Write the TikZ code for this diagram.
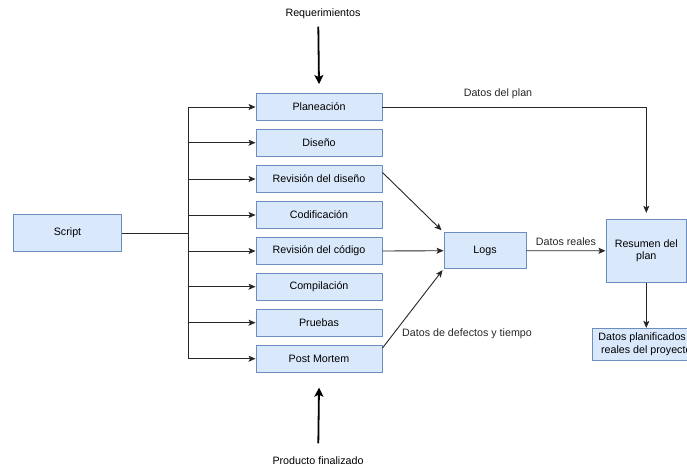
\documentclass[tikz,border=0pt]{standalone}
\usepackage{fontspec}
\setmainfont{Liberation Sans}
\usetikzlibrary{arrows.meta,calc}
\definecolor{boxfill}{HTML}{DAE8FC}
\definecolor{boxline}{HTML}{6C8EBF}
\begin{document}
\begin{tikzpicture}[x=1pt,y=-1pt,
  every node/.style={font=\fontsize{10.7}{12.8}\selectfont, inner sep=0pt, align=center},
  procbox/.style={draw=boxline, fill=boxfill, line width=0.9pt, minimum width=126pt, minimum height=27pt},
  conn/.style={line width=0.9pt, draw=black!85},
  arr/.style={conn, -{Stealth[length=7pt,width=6pt,inset=1.5pt]}},
  thickarr/.style={line width=1.8pt, -{Stealth[length=9pt,width=9pt,inset=2pt]}},
  lbl/.style={text=black!85}]
\path[use as bounding box, clip] (0,0) rectangle (687,467);

\node[procbox, minimum width=108pt, minimum height=36.6pt] (script) at (67.5,233) {Script};

\node[procbox] (plan) at (319,107) {Planeación};
\node[procbox] (dis) at (319,142.7) {Diseño};
\node[procbox] (rdis) at (319,179) {Revisión del diseño};
\node[procbox] (cod) at (319,215) {Codificación};
\node[procbox] (rcod) at (319,251) {Revisión del código};
\node[procbox] (comp) at (319,286.7) {Compilación};
\node[procbox] (prue) at (319,322.7) {Pruebas};
\node[procbox] (pm) at (319,358.7) {Post Mortem};

\node[procbox, minimum width=82pt, minimum height=36pt] (logs) at (485,250.7) {Logs};
\node[procbox, minimum width=80.7pt, minimum height=63pt] (res) at (646.3,250.8) {Resumen del\\plan};
\node[procbox, minimum width=107pt, minimum height=31.7pt] (datos) at (646.3,344.2) {Datos planificados y\\reales del proyecto};

\node (req) at (323,13.5) {Requerimientos};
\node (prod) at (318,461) {Producto finalizado};
\coordinate (reqtop) at (318.3,26.7);
\coordinate (prodbot) at (318.3,443.3);

\coordinate (bustop) at (188.3,107);
\coordinate (busbot) at (188.3,358.7);
\coordinate (busmid) at (188.3,233);

\draw[conn] (script.east) -- (busmid);
\draw[conn] (bustop) -- (busbot);
\foreach \b in {plan,dis,rdis,cod,rcod,comp,prue,pm}{
  \draw[arr] (\b.west -| busmid) -- (\b.west);
}

\draw[thickarr] (reqtop) -- ($(plan.north)+(0,-9)$);
\draw[thickarr] (prodbot) -- ($(pm.south)+(0,15)$);

\draw[arr] (plan.east) -| ($(res.north)+(0,-6)$);
\node[lbl] (dplan) at (498,94) {Datos del plan};

\draw[arr] ($(rdis.north east)+(0,7.4)$) -- ($(logs.north west)+(-2,-2)$);
\draw[arr] (rcod.east) -- (logs.west);
\draw[arr] ($(pm.north east)+(0,3.3)$) -- ($(logs.south west)+(-1,1)$);
\node[lbl] (ddef) at (467,334) {Datos de defectos y tiempo};

\draw[arr] (logs.east) -- (res.west);
\node[lbl] (dreal) at (566,241.7) {Datos reales};

\draw[arr] (res.south) -- (datos.north);
\end{tikzpicture}
\end{document}
